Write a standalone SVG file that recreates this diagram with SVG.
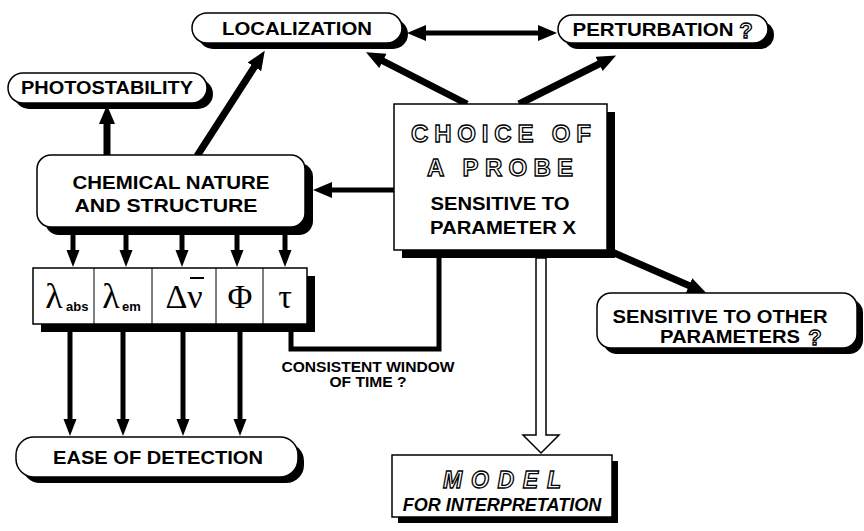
<svg xmlns="http://www.w3.org/2000/svg" width="864" height="531" viewBox="0 0 864 531">
<style>
.sh{fill:#000}
.box{fill:#fff;stroke:#000;stroke-width:1.5}
.t{font-family:"Liberation Sans",Arial,sans-serif;font-weight:bold;fill:#000;text-anchor:middle}
.o{font-family:"Liberation Sans",Arial,sans-serif;font-weight:bold;fill:#fff;stroke:#000;stroke-width:1.3;text-anchor:middle}
.g{font-family:"Liberation Serif","Times New Roman",serif;fill:#000;text-anchor:middle}
.sub{font-family:"Liberation Sans",Arial,sans-serif;font-weight:bold;fill:#000;font-size:13px}
.thick{stroke:#000;stroke-width:7;fill:none}
.med{stroke:#000;stroke-width:5;fill:none}
.div{stroke:#000;stroke-width:1}
</style>
<defs>
<marker id="ah" markerUnits="userSpaceOnUse" markerWidth="20" markerHeight="18" refX="1" refY="8" orient="auto">
<path d="M0,0 L19,8 L0,16 z" fill="#000"/>
</marker>
<marker id="ah2" markerUnits="userSpaceOnUse" markerWidth="20" markerHeight="18" refX="1" refY="8" orient="auto-start-reverse">
<path d="M0,0 L19,8 L0,16 z" fill="#000"/>
</marker>
<marker id="as" markerUnits="userSpaceOnUse" markerWidth="18" markerHeight="14" refX="1" refY="6.5" orient="auto">
<path d="M0,0 L17,6.5 L0,13 z" fill="#000"/>
</marker>
</defs>
<rect width="864" height="531" fill="#fff"/>

<g id="connectors">
<line class="med" x1="425" y1="33" x2="539" y2="33" marker-start="url(#ah2)" marker-end="url(#ah2)"/>
<line class="thick" x1="467" y1="104" x2="382" y2="60.5" marker-end="url(#ah)"/>
<line class="thick" x1="519" y1="104" x2="600" y2="63.5" marker-end="url(#ah)"/>
<line class="thick" x1="197" y1="156" x2="255" y2="66" marker-end="url(#ah)"/>
<line class="thick" x1="107" y1="156" x2="107" y2="123" marker-end="url(#ah)"/>
<line class="med" x1="394" y1="190" x2="331" y2="190" marker-end="url(#ah)"/>
<line class="thick" x1="612" y1="252" x2="690" y2="286" marker-end="url(#ah)"/>
<line class="med" x1="73" y1="228" x2="73" y2="251" marker-end="url(#as)"/>
<line class="med" x1="126" y1="228" x2="126" y2="251" marker-end="url(#as)"/>
<line class="med" x1="182" y1="228" x2="182" y2="251" marker-end="url(#as)"/>
<line class="med" x1="237" y1="228" x2="237" y2="251" marker-end="url(#as)"/>
<line class="med" x1="285" y1="228" x2="285" y2="251" marker-end="url(#as)"/>
<line class="med" x1="70" y1="325" x2="70" y2="420" marker-end="url(#as)"/>
<line class="med" x1="123" y1="325" x2="123" y2="420" marker-end="url(#as)"/>
<line class="med" x1="183" y1="325" x2="183" y2="420" marker-end="url(#as)"/>
<line class="med" x1="240" y1="325" x2="240" y2="420" marker-end="url(#as)"/>
<polyline class="med" points="291,324 291,349 439,349 439,256"/>
<polygon points="536,258 546,258 546,435 559,435 541,453 523,435 536,435" fill="#fff" stroke="#000" stroke-width="1.5"/>
</g>

<g id="localization">
<rect class="sh" x="198" y="19" width="210" height="30" rx="15"/>
<rect class="box" x="192" y="13" width="210" height="30" rx="15"/>
<text class="t" x="297" y="35" font-size="18" textLength="150" lengthAdjust="spacingAndGlyphs">LOCALIZATION</text>
</g>

<g id="perturbation">
<rect class="sh" x="564" y="21" width="210" height="28" rx="14"/>
<rect class="box" x="558" y="15" width="210" height="28" rx="14"/>
<text class="t" x="653" y="36" font-size="18" textLength="161" lengthAdjust="spacingAndGlyphs">PERTURBATION</text>
<text class="o" x="746" y="38" font-size="22" stroke-width="1.1">?</text>
</g>

<g id="photostability">
<rect class="sh" x="14" y="79" width="199" height="30" rx="15"/>
<rect class="box" x="8" y="73" width="199" height="30" rx="15"/>
<text class="t" x="107" y="94" font-size="18" textLength="172" lengthAdjust="spacingAndGlyphs">PHOTOSTABILITY</text>
</g>

<g id="chemical">
<rect class="sh" x="45" y="163" width="268" height="72" rx="14"/>
<rect class="box" x="37" y="155" width="268" height="72" rx="14"/>
<text class="t" x="171" y="189" font-size="19" textLength="197" lengthAdjust="spacingAndGlyphs">CHEMICAL NATURE</text>
<text class="t" x="166" y="212" font-size="19" textLength="183" lengthAdjust="spacingAndGlyphs">AND STRUCTURE</text>
</g>

<g id="choice">
<rect class="sh" x="402" y="112" width="213" height="146"/>
<rect class="box" x="394" y="104" width="213" height="146"/>
<text class="o" x="501" y="142" font-size="24" textLength="180" lengthAdjust="spacing">CHOICE OF</text>
<text class="o" x="500" y="176" font-size="24" textLength="146" lengthAdjust="spacing">A PROBE</text>
<text class="t" x="500" y="210" font-size="18" textLength="139" lengthAdjust="spacingAndGlyphs">SENSITIVE TO</text>
<text class="t" x="503" y="234" font-size="18" textLength="146" lengthAdjust="spacingAndGlyphs">PARAMETER X</text>
</g>

<g id="properties">
<rect class="sh" x="41" y="276" width="274" height="56"/>
<rect class="box" x="33" y="268" width="274" height="56"/>
<line class="div" x1="94" y1="268" x2="94" y2="324"/>
<line class="div" x1="152" y1="268" x2="152" y2="324"/>
<line class="div" x1="216" y1="268" x2="216" y2="324"/>
<line class="div" x1="263" y1="268" x2="263" y2="324"/>
<text class="g" x="54" y="308" font-size="36">λ</text>
<text class="sub" x="66" y="311">abs</text>
<text class="g" x="111" y="308" font-size="36">λ</text>
<text class="sub" x="122" y="311">em</text>
<text class="g" x="184" y="308" font-size="34">Δν</text>
<line x1="190" y1="278" x2="204" y2="278" stroke="#000" stroke-width="2"/>
<text class="g" x="240" y="308" font-size="34">Φ</text>
<text class="g" x="285" y="308" font-size="34">τ</text>
</g>

<g id="window-label">
<text class="t" x="368" y="372" font-size="14" textLength="173" lengthAdjust="spacingAndGlyphs">CONSISTENT WINDOW</text>
<text class="t" x="368" y="387" font-size="14" textLength="77" lengthAdjust="spacingAndGlyphs">OF TIME ?</text>
</g>

<g id="sensitive-other">
<rect class="sh" x="603" y="299" width="260" height="55" rx="14"/>
<rect class="box" x="597" y="293" width="260" height="55" rx="14"/>
<text class="t" x="720" y="323" font-size="19" textLength="215" lengthAdjust="spacingAndGlyphs">SENSITIVE TO OTHER</text>
<text class="t" x="730" y="343" font-size="19" textLength="140" lengthAdjust="spacingAndGlyphs">PARAMETERS</text>
<text class="o" x="815" y="345" font-size="22" stroke-width="1.1">?</text>
</g>

<g id="ease">
<rect class="sh" x="22" y="443" width="282" height="40" rx="18"/>
<rect class="box" x="16" y="437" width="282" height="40" rx="18"/>
<text class="t" x="158" y="464" font-size="19" textLength="210" lengthAdjust="spacingAndGlyphs">EASE OF DETECTION</text>
</g>

<g id="model">
<rect class="sh" x="398" y="461" width="220" height="62"/>
<rect class="box" x="392" y="455" width="220" height="62"/>
<text class="o" x="502" y="488" font-size="23" font-style="italic" textLength="118" lengthAdjust="spacing">MODEL</text>
<text class="t" x="502" y="511" font-size="18" font-style="italic">FOR INTERPRETATION</text>
</g>
</svg>
